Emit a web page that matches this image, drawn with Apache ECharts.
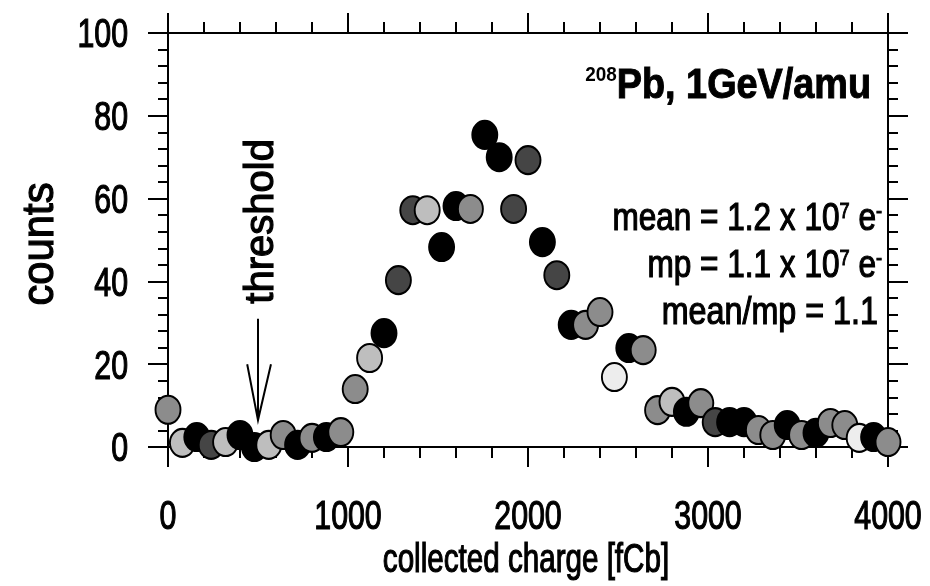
<!DOCTYPE html>
<html>
<head>
<meta charset="utf-8">
<script src="https://cdn.jsdelivr.net/npm/echarts@6/dist/echarts.min.js"></script>
<style>
  html, body { margin: 0; padding: 0; background: #fff; }
  #main { width: 930px; height: 586px; }
</style>
</head>
<body>
<div id="main"></div>
<script>
// collected charge bins [fCb]
var charge = [0, 80, 160, 240, 320, 400, 480, 560, 640, 720,
  800, 880, 960, 1040, 1120, 1200, 1280, 1360, 1440, 1520,
  1600, 1680, 1760, 1840, 1920, 2000, 2080, 2160, 2240, 2320,
  2400, 2480, 2560, 2640, 2720, 2800, 2880, 2960, 3040, 3120,
  3200, 3280, 3360, 3440, 3520, 3600, 3680, 3760, 3840, 3920, 4000];
// counts
var counts = [9, 1, 2.4, 0.5, 1.2, 2.9, 0, 0.5, 2.9, 0.5,
  2.2, 2.4, 3.6, 14, 21.5, 27.5, 40.3, 57.2, 57.2, 48.3,
  58.2, 57.5, 75.4, 70, 57.5, 69.3, 49.5, 41.5, 29.5, 29.5,
  32.6, 16.9, 23.9, 23.4, 8.9, 10.9, 8.5, 10.6, 6, 6,
  6, 4.1, 2.9, 5.3, 2.9, 3.4, 5.8, 5.3, 2.2, 2.4, 1.2];
// marker shade per point: k black, d dark, g grey, l light, w white-ish
var shades = ['g', 'l', 'k', 'd', 'l', 'k', 'k', 'l', 'g', 'k',
  'g', 'k', 'g', 'g', 'l', 'k', 'd', 'd', 'l', 'k',
  'k', 'g', 'k', 'k', 'd', 'd', 'k', 'd', 'k', 'g',
  'g', 'w', 'k', 'g', 'g', 'l', 'k', 'g', 'd', 'k',
  'k', 'g', 'g', 'k', 'g', 'k', 'g', 'g', 'w', 'k', 'g'];
var shadeColors = { k: '#000000', d: '#454545', g: '#8c8c8c', l: '#bebebe', w: '#ededed' };

var xTicks = [0, 1000, 2000, 3000, 4000];
var yTicks = [0, 20, 40, 60, 80, 100];

var FONT = "'Liberation Sans', Arial, sans-serif";
var SQUEEZE = 0.74; // the original lettering is a condensed face

var chart = echarts.init(document.getElementById('main'), null, { renderer: 'canvas' });

var points = [];
for (var i = 0; i < charge.length; i++) {
  points.push({
    value: [charge[i], counts[i]],
    itemStyle: { color: shadeColors[shades[i]] }
  });
}

function axisX(pos) {
  return {
    type: 'value',
    position: pos,
    min: xTicks[0],
    max: xTicks[xTicks.length - 1],
    interval: 1000,
    axisLine: { show: true, onZero: false, lineStyle: { color: '#000', width: 2 } },
    axisTick: { show: true, inside: false, length: 20, lineStyle: { color: '#000', width: 2 } },
    minorTick: { show: true, splitNumber: 5, length: 11, lineStyle: { color: '#000', width: 2 } },
    splitLine: { show: false },
    axisLabel: { show: false }
  };
}

function axisY(pos) {
  return {
    type: 'value',
    position: pos,
    min: yTicks[0],
    max: yTicks[yTicks.length - 1],
    interval: 20,
    axisLine: { show: true, onZero: false, lineStyle: { color: '#000', width: 2 } },
    axisTick: { show: true, inside: false, length: 20, lineStyle: { color: '#000', width: 2 } },
    minorTick: { show: true, splitNumber: 5, length: 10, lineStyle: { color: '#000', width: 2 } },
    splitLine: { show: false },
    axisLabel: { show: false }
  };
}

chart.setOption({
  animation: false,
  backgroundColor: '#fff',
  grid: { left: 168, right: 42, top: 33, bottom: 139 },
  xAxis: [axisX('bottom'), axisX('top')],
  yAxis: [axisY('left'), axisY('right')],
  series: [{
    type: 'scatter',
    symbol: 'circle',
    symbolSize: [25, 28],
    itemStyle: { borderColor: '#000', borderWidth: 2, opacity: 1 },
    data: points
  }]
});

function px(x, y) {
  return chart.convertToPixel({ gridIndex: 0 }, [x, y]);
}

// scanned lettering is heavier than a plain regular face, so give it a thin outline
function txt(x, y, text, size, align, squeeze) {
  return {
    type: 'text', x: x, y: y, scaleX: squeeze || SQUEEZE,
    style: {
      text: text, fontFamily: FONT, fontSize: size, fill: '#000',
      stroke: '#000', lineWidth: 1.2, align: align, verticalAlign: 'middle'
    }
  };
}

var graphics = [];

// tick labels, placed through the axis scales
xTicks.forEach(function (v) {
  var p = px(v, 0);
  graphics.push(txt(p[0], p[1] + 71, String(v), 41, 'center'));
});
yTicks.forEach(function (v) {
  var p = px(0, v);
  graphics.push(txt(p[0] - 40, p[1] + 3, String(v), 41, 'right'));
});

// axis titles
var xMid = px(2000, 0);
graphics.push(txt(xMid[0] - 2, 561, 'collected charge [fCb]', 40, 'center', 0.74));
var yMid = px(0, 50);
var countsEl = txt(41, yMid[1] + 4, 'counts', 44, 'center', 0.95);
countsEl.rotation = Math.PI / 2;
graphics.push(countsEl);

// threshold arrow, placed in data coordinates
var shaftTop = px(500, 31);
var tip = px(500, 6.5);
var headL = px(440, 20);
var headR = px(572, 20);
var label = px(524, 54.5);
var lineStyle = { stroke: '#000', lineWidth: 2, fill: null };
graphics.push({ type: 'line', shape: { x1: shaftTop[0], y1: shaftTop[1], x2: tip[0], y2: tip[1] }, style: lineStyle });
graphics.push({ type: 'polyline', shape: { points: [headL, tip, headR] }, style: lineStyle });
var thrEl = txt(label[0], label[1], 'threshold', 40, 'center', 1);
thrEl.rotation = Math.PI / 2;
graphics.push(thrEl);

// beam label and statistics
var plain = { fontFamily: FONT, fontSize: 38, color: '#000', stroke: '#000', lineWidth: 1.2 };
var sup = { fontFamily: FONT, fontSize: 22, color: '#000', stroke: '#000', lineWidth: 1, verticalAlign: 'top' };
graphics.push({
  type: 'text', x: 871, y: 86, scaleX: 0.9,
  style: {
    text: '{s|208}{t|Pb, 1GeV/amu}', align: 'right', verticalAlign: 'middle',
    rich: {
      s: { fontFamily: FONT, fontSize: 21, fontWeight: 'bold', color: '#000', verticalAlign: 'top' },
      t: { fontFamily: FONT, fontSize: 42, fontWeight: 'bold', color: '#000', stroke: '#000', lineWidth: 1 }
    }
  }
});
graphics.push({
  type: 'text', x: 882, y: 220, scaleX: 0.83,
  style: { text: '{a|mean = 1.2 x 10}{s|7}{a| e}{s|-}', align: 'right', verticalAlign: 'middle', rich: { a: plain, s: sup } }
});
graphics.push({
  type: 'text', x: 882, y: 267, scaleX: 0.83,
  style: { text: '{a|mp = 1.1 x 10}{s|7}{a| e}{s|-}', align: 'right', verticalAlign: 'middle', rich: { a: plain, s: sup } }
});
graphics.push({
  type: 'text', x: 878, y: 314, scaleX: 0.85,
  style: { text: '{a|mean/mp = 1.1}', align: 'right', verticalAlign: 'middle', rich: { a: plain } }
});

chart.setOption({ graphic: graphics });
</script>
</body>
</html>
